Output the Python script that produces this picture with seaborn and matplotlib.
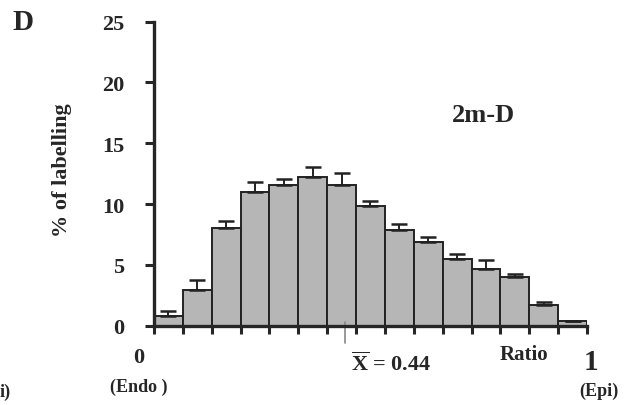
import numpy as np
import pandas as pd
import seaborn as sns
import matplotlib.pyplot as plt

sns.set_theme(style="ticks")
plt.rcParams['font.family'] = ['Liberation Serif', 'DejaVu Serif']
plt.rcParams['font.weight'] = 'bold'
plt.rcParams['mathtext.fontset'] = 'custom'
plt.rcParams['mathtext.rm'] = 'Liberation Serif:bold'

# === Data ===
n_bins = 15
pct_labelling = [0.82, 2.96, 8.03, 11.0, 11.57, 12.2, 11.57, 9.87, 7.87, 6.86, 5.48, 4.66, 4.03, 1.70, 0.41]
sem_upper = [0.36, 0.82, 0.6, 0.84, 0.5, 0.87, 0.96, 0.41, 0.49, 0.41, 0.42, 0.77, 0.22, 0.22, 0.0]
mean_ratio = 0.44
panel_label = "2m-D"

bin_edges = np.linspace(0, 1, n_bins + 1)
centers = (bin_edges[:-1] + bin_edges[1:]) / 2
df = pd.DataFrame({"ratio": centers, "pct": pct_labelling})

# === Figure ===
fig = plt.figure(figsize=(6.29, 4.06), dpi=100)
ax = fig.add_axes([0.2448, 0.1953, 0.6884, 0.7488])

sns.histplot(data=df, x="ratio", weights="pct", bins=n_bins, binrange=(0, 1), stat="count",
             color="#b6b6b6", edgecolor="#222222", linewidth=1.4, alpha=1, ax=ax)

err = np.array(sem_upper)
ax.errorbar(centers, pct_labelling, yerr=[np.zeros_like(err), err], fmt="none",
            ecolor="#222222", elinewidth=1.4, capsize=6, capthick=1.8)

ax.set_xlim(0, 1)
ax.set_ylim(0, 25)
ax.set_xticks(bin_edges)
ax.set_xticklabels([])
ax.set_yticks([0, 5, 10, 15, 20, 25])
ax.tick_params(axis="y", direction="out", length=6.5, width=2.2, labelsize=16, pad=15)
ax.tick_params(axis="x", direction="out", length=6, width=2.2)
for lab in ax.get_yticklabels():
    lab.set_fontweight("bold")
sns.despine(ax=ax)
ax.spines["left"].set_linewidth(2.4)
ax.spines["bottom"].set_linewidth(2.4)
ax.set_xlabel("")
ax.set_ylabel("% of labelling", fontsize=16, fontweight="bold")
ax.yaxis.set_label_coords(-0.19, 0.515)

# mean marker
ax.plot([mean_ratio, mean_ratio], [-1.4, 0.3], color="#888888", lw=1.2, clip_on=False)

# === Annotations ===
ax.text(0.76, 17.4, panel_label, fontsize=19, fontweight="bold", ha="center", va="center")
fig.text(23 / 629, 1 - 22 / 406, "D", fontsize=21, fontweight="bold", ha="center", va="center")
fig.text(139 / 629, 1 - 358 / 406, "0", fontsize=16, fontweight="bold", ha="center", va="center")
fig.text(139 / 629, 1 - 387 / 406, "(Endo )", fontsize=13, fontweight="bold", ha="center", va="center")
fig.text(591 / 629, 1 - 363 / 406, "1", fontsize=21, fontweight="bold", ha="center", va="center")
fig.text(599 / 629, 1 - 391 / 406, "(Epi)", fontsize=13, fontweight="bold", ha="center", va="center")
fig.text(524 / 629, 1 - 355 / 406, "Ratio", fontsize=15, fontweight="bold", ha="center", va="center")
fig.text(391 / 629, 1 - 364 / 406, r"$\overline{\mathrm{X}}$ = " + f"{mean_ratio:.2f}",
         fontsize=16, fontweight="bold", ha="center", va="center")
fig.text(0, 1 - 392 / 406, "i)", fontsize=13, fontweight="bold", ha="left", va="center")

plt.savefig("out.png", dpi=100)
